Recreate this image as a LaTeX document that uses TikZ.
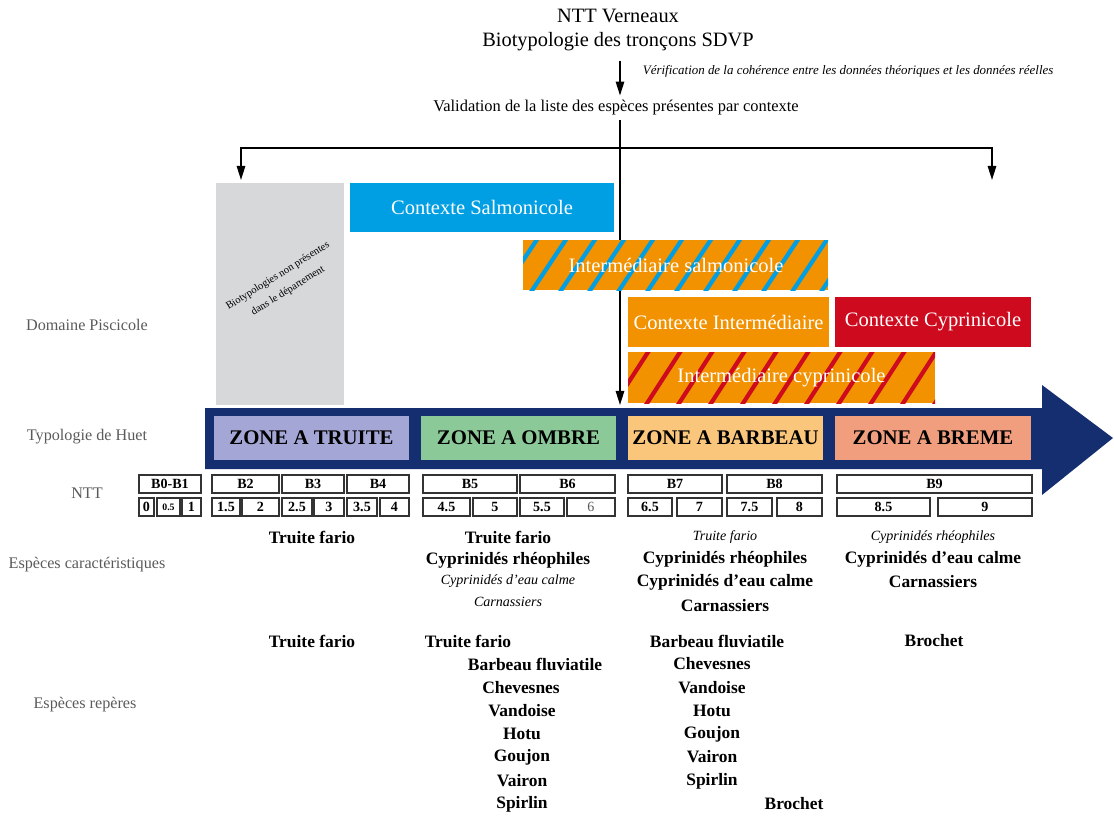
\documentclass[tikz,border=0pt]{standalone}
\usepackage{fontspec}
\setmainfont{Liberation Serif}
\usetikzlibrary{arrows.meta}

\definecolor{grisbox}{RGB}{215,216,218}
\definecolor{bleusalmo}{RGB}{0,159,227}
\definecolor{orangeint}{RGB}{242,146,0}
\definecolor{rougecyp}{RGB}{206,10,30}
\definecolor{navyhuet}{RGB}{20,46,112}
\definecolor{cotruite}{RGB}{164,166,214}
\definecolor{coombre}{RGB}{140,201,152}
\definecolor{cobarbeau}{RGB}{250,198,124}
\definecolor{cobreme}{RGB}{240,158,125}
\definecolor{gristexte}{RGB}{90,90,90}

\tikzset{
  titre/.style={font=\fontsize{14.5}{17.7}\selectfont, align=center},
  lab/.style={text=gristexte, font=\fontsize{11.5}{13}\selectfont},
  ctx/.style={text=white, inner xsep=1pt, font=\fontsize{14.6}{16}\selectfont},
  zone/.style={minimum width=4.875cm, minimum height=1.1cm, inner xsep=1pt, font=\fontsize{14.8}{16}\selectfont\bfseries},
  nttbox/.style={draw=black!80, line width=0.9pt},
  grislab/.style={rotate=32, inner sep=0pt, font=\fontsize{7.5}{9}\selectfont},
  sp/.style={font=\fontsize{12.4}{14}\selectfont\bfseries},
  spi/.style={font=\fontsize{10}{12}\selectfont\itshape}
}

\begin{document}
\begin{tikzpicture}[x=0.025cm,y=-0.025cm,>={Triangle[width=6pt,length=10pt]}]
        \useasboundingbox (0,0) rectangle (1114,816);

        % en-tete
        \node (titre) at (618,30) [titre] {NTT Verneaux\\Biotypologie des tronçons SDVP};
        \node (valid) at (616,108) [font=\fontsize{11.7}{13}\selectfont] {Validation de la liste des espèces présentes par contexte};
        \node (verif) at (638,71) [anchor=west, font=\fontsize{9.2}{10}\selectfont\itshape] {Vérification de la cohérence entre les données théoriques et les données réelles};
        \coordinate (axe) at (620,0);
        \coordinate (branche) at (620,148);
        \coordinate (flgauche) at (241,180);
        \coordinate (fldroite) at (992,180);
        \coordinate (bandtop) at (620,405);
        \draw[->,very thick] ([yshift=-3pt]titre.south -| axe) -- (valid.north -| axe);
        \draw[->,very thick] (valid.south -| axe) -- (bandtop);
        \draw[->,very thick] (branche) -| (flgauche);
        \draw[->,very thick] (branche) -| (fldroite);

        % domaine piscicole
        \node (gris) at (280,294) [fill=grisbox, minimum width=3.2cm, minimum height=5.55cm] {};
        \node (grislaba) at (278,276) [grislab] {Biotypologies non présentes};
        \node (grislabb) at (288,291) [grislab] {dans le département};
        \node (salmo) at (482,207.5) [ctx, fill=bleusalmo, minimum width=6.6cm, minimum height=1.225cm] {Contexte Salmonicole};

        \fill[orangeint] (523,240) rectangle (828,290);
        \begin{scope}
            \clip (523,240) rectangle (828,290);
            \foreach \s in {0,...,11}
                \draw[bleusalmo, line width=3pt] (500+\s*29,295) -- ++(40,-60);
        \end{scope}
        \node (intsalmo) at (676,265) [ctx] {Intermédiaire salmonicole};

        \node (ctxint) at (728.5,322) [ctx, fill=orangeint, minimum width=5.025cm, minimum height=1.25cm] {Contexte Intermédiaire};
        \node (ctxcyp) at (933,322) [ctx, fill=rougecyp, minimum width=4.9cm, minimum height=1.25cm] {Contexte Cyprinicole};

        \fill[orangeint] (628,352) rectangle (935,403);
        \begin{scope}
            \clip (628,352) rectangle (935,403);
            \foreach \s in {0,...,10}
                \draw[rougecyp, line width=3pt] (612+\s*32,408) -- ++(40,-62);
        \end{scope}
        \node (intcyp) at (781.5,377.5) [ctx] {Intermédiaire cyprinicole};

        % typologie de Huet
        \fill[navyhuet] (205,408) -- (1042,408) -- (1042,385) -- (1113,438) -- (1042,495) -- (1042,469) -- (205,469) -- cycle;
        \node (truite) at (311.5,438) [zone, fill=cotruite] {ZONE A TRUITE};
        \node (ombre) at (518.5,438) [zone, fill=coombre] {ZONE A OMBRE};
        \node (barbeau) at (725.5,438) [zone, fill=cobarbeau] {ZONE A BARBEAU};
        \node (breme) at (933,438) [zone, fill=cobreme, minimum width=4.9cm] {ZONE A BREME};

        % NTT
        \foreach \a/\b/\t [count=\i] in {139/201/B0-B1, 212/279/B2, 282/344/B3, 347/409/B4, 423/517/B5, 520/615/B6, 628/722/B7, 727/822/B8, 837/1032/B9}
            \draw[nttbox] (\a,475) rectangle (\b,493) node[midway, name=ba\i, font=\fontsize{10}{11}\selectfont\bfseries]{\t};
        \foreach \a/\b/\t [count=\i] in {139/154/0, 157/180/{\fontsize{7}{8}\selectfont 0.5}, 182/201/1, 212/240/1.5, 242/279/2, 282/312/2.5, 314/344/3, 347/377/3.5, 380/409/4, 423/470/4.5, 473/517/5, 520/564/5.5, 567/615/{\mdseries\color{gristexte}6}, 628/672/6.5, 677/722/7, 727/772/7.5, 777/822/8, 837/930/8.5, 938/1032/9}
            \draw[nttbox] (\a,498) rectangle (\b,516) node[midway, name=bb\i, font=\fontsize{10}{11}\selectfont\bfseries]{\t};

        % etiquettes
        \node (domaine) at (87,325) [lab] {Domaine Piscicole};
        \node (huet) at (87,437) [lab] {Typologie de Huet};
        \node (ntt) at (87,493) [lab] {NTT};
        \node (caract) at (87,565) [lab] {Espèces caractéristiques};
        \node (reperes) at (85,705) [lab] {Espèces repères};

        % especes caracteristiques
        \node (ca1) at (312,537) [sp] {Truite fario};
        \node (ca2) at (508,537) [sp] {Truite fario};
        \node (ca3) at (508,560) [sp] {Cyprinidés rhéophiles};
        \node (ca4) at (508,581) [spi] {Cyprinidés d’eau calme};
        \node (ca5) at (508,602) [spi] {Carnassiers};
        \node (ca6) at (725,537) [spi] {Truite fario};
        \node (ca7) at (725,559) [sp] {Cyprinidés rhéophiles};
        \node (ca8) at (725,582) [sp] {Cyprinidés d’eau calme};
        \node (ca9) at (725,606) [sp] {Carnassiers};
        \node (ca10) at (933,537) [spi] {Cyprinidés rhéophiles};
        \node (ca11) at (933,559) [sp] {Cyprinidés d’eau calme};
        \node (ca12) at (933,582) [sp] {Carnassiers};

        % especes reperes
        \node (re1) at (312,641) [sp] {Truite fario};
        \node (re2) at (468,641) [sp] {Truite fario};
        \node (re3) at (535,664) [sp] {Barbeau fluviatile};
        \node (re4) at (521,688) [sp] {Chevesnes};
        \node (re5) at (522,711) [sp] {Vandoise};
        \node (re6) at (522,734) [sp] {Hotu};
        \node (re7) at (522,757) [sp] {Goujon};
        \node (re8) at (522,781) [sp] {Vairon};
        \node (re9) at (522,804) [sp] {Spirlin};
        \node (re10) at (717,641) [sp] {Barbeau fluviatile};
        \node (re11) at (712,664) [sp] {Chevesnes};
        \node (re12) at (712,688) [sp] {Vandoise};
        \node (re13) at (712,711) [sp] {Hotu};
        \node (re14) at (712,734) [sp] {Goujon};
        \node (re15) at (712,757) [sp] {Vairon};
        \node (re16) at (712,781) [sp] {Spirlin};
        \node (re17) at (794,804) [sp] {Brochet};
        \node (re18) at (934,641) [sp] {Brochet};
    \end{tikzpicture}
\end{document}
